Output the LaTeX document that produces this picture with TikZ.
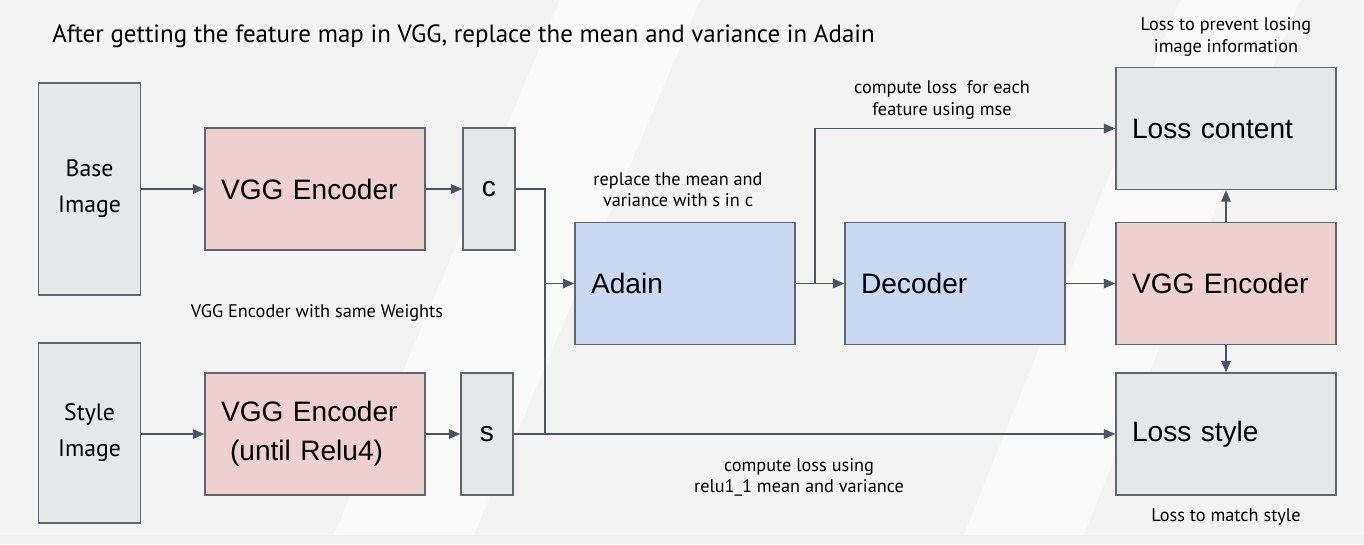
\documentclass[tikz,border=0pt]{standalone}
\usepackage{fontspec}
\setmainfont{PT Sans}
\newfontfamily\boxfont{Liberation Sans}
\usetikzlibrary{arrows.meta}

\definecolor{bgcol}{HTML}{F3F3F4}
\definecolor{edgecol}{HTML}{5E6672}
\definecolor{greybox}{HTML}{E6E7E9}
\definecolor{pinkbox}{HTML}{EFD0D0}
\definecolor{bluebox}{HTML}{CAD9F1}
\definecolor{arrowcol}{HTML}{4B5466}

\tikzset{
  imgbox/.style={draw=edgecol, fill=greybox, line width=0.9pt, minimum width=2.04cm, align=center, font=\fontsize{13.5}{20.5}\selectfont},
  featbox/.style={draw=edgecol, fill=greybox, line width=0.9pt, minimum width=1.04cm, minimum height=2.44cm, font=\boxfont\fontsize{16}{19}\selectfont},
  bigbox/.style={draw=edgecol, line width=0.9pt, text width=3.76cm, inner xsep=0.32cm, minimum height=2.44cm, align=left, font=\boxfont\fontsize{16}{22}\selectfont},
  note/.style={align=center, font=\fontsize{10.4}{12}\selectfont},
  conn/.style={draw=arrowcol, line width=0.8pt, -{Triangle[length=6.5pt, width=5.5pt]}},
  line/.style={draw=arrowcol, line width=0.8pt}
}

\begin{document}
\begin{tikzpicture}[x=0.02cm, y=-0.02cm]
\useasboundingbox (0,0) rectangle (1364,544);
% background
\fill[bgcol] (0,0) rectangle (1364,544);
\fill[white, opacity=0.6] (560,0) -- (700,0) -- (470,544) -- (330,544) -- cycle;
\fill[white, opacity=0.5] (1180,0) -- (1300,0) -- (1080,544) -- (960,544) -- cycle;
\fill[black!6] (0,535) rectangle (1364,544);

\node[anchor=west, inner sep=0pt, font=\fontsize{14.2}{17}\selectfont] (title) at (52,36) {After getting the feature map in VGG, replace the mean and variance in Adain};

% inputs
\node[imgbox, minimum height=4.24cm] (base) at (89.5,189) {Base\\Image};
\node[imgbox, minimum height=3.6cm] (style) at (89.5,433) {Style\\Image};

% encoders
\node[bigbox, fill=pinkbox] (enc1) at (315,189) {VGG Encoder};
\node[bigbox, fill=pinkbox] (enc2) at (315,434) {VGG Encoder\\\hspace*{0.18cm}(until Relu4)};
\node[featbox] (c) at (489,189) {c};
\node[featbox] (s) at (487,434) {s};

% middle
\node[bigbox, fill=bluebox] (adain) at (685,283.5) {Adain};
\node[bigbox, fill=bluebox] (dec) at (955,283.5) {Decoder};

% losses
\node[bigbox, fill=greybox] (lossc) at (1226,128.5) {Loss content};
\node[bigbox, fill=pinkbox] (enc3) at (1226,283.5) {VGG Encoder};
\node[bigbox, fill=greybox] (losss) at (1226,434) {Loss style};

\coordinate (j) at (545,283.5);
\coordinate (k) at (815,283.5);

\draw[conn] (base) -- (enc1);
\draw[conn] (enc1) -- (c);
\draw[conn] (style.east |- enc2) -- (enc2);
\draw[conn] (enc2) -- (s);
\draw[conn] (c.east) -| (j) -- (adain.west);
\draw[line] (s.east -| j) -- (j);
\draw[conn] (s) -- (losss);
\draw[conn] (adain) -- (dec);
\draw[conn] (k) |- (lossc.west);
\draw[conn] (dec) -- (enc3);
\draw[conn] (enc3) -- (lossc);
\draw[conn] (enc3) -- (losss);

% notes
\node[note] (n1) at (678,190) {replace the mean and\\variance with s in c};
\node[note] (n2) at (942,100) {compute loss\ \ for each\\feature using mse};
\node[note] (n3) at (317,313) {VGG Encoder with same Weights};
\node[note] (n4) at (799,477) {compute loss using\\relu1\_1 mean and variance};
\node[note] (n5) at (1226,37) {Loss to prevent losing\\image information};
\node[note] (n6) at (1226,517) {Loss to match style};
\end{tikzpicture}
\end{document}
